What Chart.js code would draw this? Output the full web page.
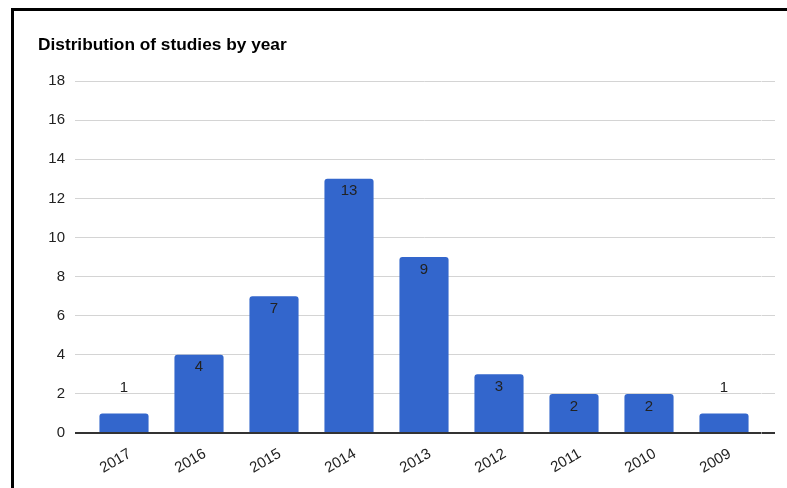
<!DOCTYPE html>
<html>
<head>
<meta charset="utf-8">
<script src="https://cdn.jsdelivr.net/npm/chart.js@4.4.1/dist/chart.umd.min.js"></script>
<style>
  html, body { margin: 0; padding: 0; background: #fff; width: 787px; height: 488px; overflow: hidden; }
  #frame { position: absolute; left: 11px; top: 8px; width: 900px; height: 600px; border-left: 3px solid #000; border-top: 3px solid #000; box-sizing: border-box; }
  #wrap { position: absolute; left: 0; top: 0; width: 787px; height: 488px; }
</style>
</head>
<body>
<div id="frame"></div>
<div id="wrap"><canvas id="c" width="787" height="488"></canvas></div>
<script>
const chartTitle = "Distribution of studies by year";
const years = ["2017", "2016", "2015", "2014", "2013", "2012", "2011", "2010", "2009"];
const studies = [1, 4, 7, 13, 9, 3, 2, 2, 1];
const yMin = 0, yMax = 18, yStep = 2;

const FONT = "'Liberation Sans', Arial, sans-serif";

const valueLabels = {
  id: 'valueLabels',
  afterDatasetsDraw(chart) {
    const ctx = chart.ctx;
    const meta = chart.getDatasetMeta(0);
    ctx.save();
    ctx.font = '15px ' + FONT;
    ctx.fillStyle = '#222';
    ctx.textAlign = 'center';
    ctx.textBaseline = 'middle';
    meta.data.forEach((el, i) => {
      const h = el.base - el.y;
      const y = h < 28 ? el.y - 26 : el.y + 12.5;
      ctx.fillText(String(studies[i]), el.x, y);
    });
    ctx.restore();
  }
};

const gridColor = (c) => (c.tick && c.tick.value === 0) ? '#333' : '#d4d4d4';
const gridWidth = (c) => (c.tick && c.tick.value === 0) ? 2 : 1;

new Chart(document.getElementById('c'), {
  type: 'bar',
  data: {
    labels: years,
    datasets: [{
      data: studies,
      backgroundColor: '#3366cc',
      borderRadius: 3,
      borderSkipped: 'bottom',
      barPercentage: 0.655,
      categoryPercentage: 1.0
    }]
  },
  options: {
    responsive: false,
    animation: false,
    layout: { padding: { left: 38, right: 0, top: 0, bottom: 0 } },
    plugins: {
      legend: { display: false },
      tooltip: { enabled: false },
      title: {
        display: true,
        text: chartTitle,
        align: 'start',
        color: '#000',
        font: { family: FONT, size: 17.3, weight: 'bold', lineHeight: 1.2 },
        padding: { top: 35, bottom: 25.3 }
      }
    },
    scales: {
      x: {
        offset: true,
        grid: { display: false },
        border: { display: false },
        ticks: {
          color: '#222',
          font: { family: FONT, size: 15 },
          minRotation: 30,
          maxRotation: 30,
          labelOffset: 6,
          padding: 4
        },
        afterFit(s) { s.height = 55; }
      },
      y: {
        position: 'left',
        min: yMin, max: yMax,
        border: { display: false },
        grid: { color: gridColor, lineWidth: gridWidth, tickLength: 11.5 },
        ticks: {
          stepSize: yStep,
          color: '#222',
          font: { family: FONT, size: 15 },
          padding: 10
        },
        afterFit(s) { s.width = 48.5; }
      },
      y2: {
        position: 'right',
        min: yMin, max: yMax,
        border: { display: false },
        grid: { drawOnChartArea: false, color: gridColor, lineWidth: gridWidth, tickLength: 13.5 },
        ticks: { stepSize: yStep, display: false },
        afterFit(s) { s.width = 25.5; }
      }
    }
  },
  plugins: [valueLabels]
});
</script>
</body>
</html>
